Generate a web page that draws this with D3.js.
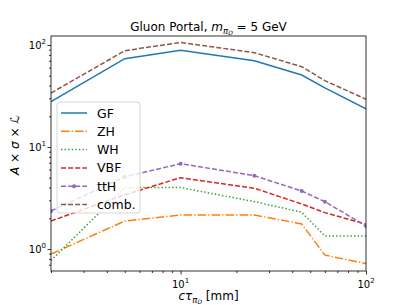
<!DOCTYPE html>
<html>
<head>
<meta charset="utf-8">
<script src="https://cdn.jsdelivr.net/npm/d3@7"></script>
<style>
  body { margin: 0; background: #fff; }
  svg { font-family: "DejaVu Sans", sans-serif; }
</style>
</head>
<body>
<svg id="chart" width="407" height="305"></svg>
<script>
// lifetimes (mm)
const ctau = [2, 5, 10, 25, 45, 60, 100];

// series values
const gf   = [27.8, 73.4, 88.7, 70.2, 50.8, 37.9, 23.7];
const zh   = [0.89, 1.88, 2.15, 2.15, 1.76, 0.87, 0.72];
const wh   = [0.77, 4.0, 4.0, 2.91, 2.29, 1.34, 1.34];
const vbf  = [1.88, 3.4, 5.0, 3.94, 2.76, 2.27, 1.75];
const tth  = [2.36, 5.1, 6.86, 5.23, 3.7, 2.91, 1.68];
const comb = [33.8, 87.9, 106, 84, 61.3, 44.7, 29.4];

const seriesNames = ["GF", "ZH", "WH", "VBF", "ttH", "comb."];
const seriesData = [gf, zh, wh, vbf, tth, comb];
const colors = ["#1f77b4", "#ff7f0e", "#2ca02c", "#d62728", "#9467bd", "#8c564b"];
const dashes = [null, "8.5,2.1,1.3,2.1", "1.4,2.2", "5,2.1", "5,2.1", "5,2.1"];

const xTicks = [10, 100];
const yTicks = [1, 10, 100];

const svg = d3.select("#chart");
const mLeft = 51, mRight = 366, mTop = 36, mBottom = 271;

const x = d3.scaleLog().domain([2, 100]).range([mLeft, mRight]);
const y = d3.scaleLog().domain([0.608, 122.5]).range([mBottom, mTop]);

svg.append("clipPath").attr("id", "clip")
  .append("rect").attr("x", mLeft).attr("y", mTop)
  .attr("width", mRight - mLeft).attr("height", mBottom - mTop);

const line = d3.line()
  .x((d, i) => x(ctau[i]))
  .y(d => y(d));

const plot = svg.append("g").attr("clip-path", "url(#clip)");

seriesData.forEach((vals, k) => {
  plot.append("path")
    .datum(vals)
    .attr("d", line)
    .attr("fill", "none")
    .attr("stroke", colors[k])
    .attr("stroke-width", 1.5)
    .attr("stroke-dasharray", dashes[k]);
});

// ttH markers
plot.selectAll("circle.tth")
  .data(tth)
  .enter()
  .append("circle")
  .attr("cx", (d, i) => x(ctau[i]))
  .attr("cy", d => y(d))
  .attr("r", 2)
  .attr("fill", colors[4]);

// minor tick values
const xMinor = [2, 3, 4, 5, 6, 7, 8, 9, 20, 30, 40, 50, 60, 70, 80, 90];
const yMinor = [0.7, 0.8, 0.9, 2, 3, 4, 5, 6, 7, 8, 9, 20, 30, 40, 50, 60, 70, 80, 90];

const sup = (g, base, exp) => {
  g.append("tspan").text(base);
  g.append("tspan").attr("dy", -5).attr("font-size", 7).text(exp);
};

// x axis
const xAxis = svg.append("g").attr("transform", `translate(0,${mBottom})`);
xAxis.call(d3.axisBottom(x).tickValues(xMinor).tickSize(2).tickFormat(""));
xAxis.append("g").call(d3.axisBottom(x).tickValues(xTicks).tickSize(3.5).tickFormat(""));
xAxis.selectAll(".domain").remove();
xAxis.selectAll("line").attr("stroke", "#000").attr("stroke-width", 0.8);
xTicks.forEach(v => {
  const t = svg.append("text").attr("x", x(v)).attr("y", 288)
    .attr("text-anchor", "middle").attr("font-size", 10);
  sup(t, "10", String(Math.round(Math.log10(v))));
});

// y axis
const yAxis = svg.append("g").attr("transform", `translate(${mLeft},0)`);
yAxis.call(d3.axisLeft(y).tickValues(yMinor).tickSize(2).tickFormat(""));
yAxis.append("g").call(d3.axisLeft(y).tickValues(yTicks).tickSize(3.5).tickFormat(""));
yAxis.selectAll(".domain").remove();
yAxis.selectAll("line").attr("stroke", "#000").attr("stroke-width", 0.8);
yTicks.forEach(v => {
  const t = svg.append("text").attr("x", 46).attr("y", y(v) + 4)
    .attr("text-anchor", "end").attr("font-size", 10);
  sup(t, "10", String(Math.round(Math.log10(v))));
});

// frame
svg.append("rect").attr("x", mLeft).attr("y", mTop)
  .attr("width", mRight - mLeft).attr("height", mBottom - mTop)
  .attr("fill", "none").attr("stroke", "#000").attr("stroke-width", 0.8);

// title
const title = svg.append("text").attr("x", (mLeft + mRight) / 2).attr("y", 31)
  .attr("text-anchor", "middle").attr("font-size", 12);
title.append("tspan").text("Gluon Portal, ");
title.append("tspan").attr("font-style", "italic").text("m");
title.append("tspan").attr("font-style", "italic").attr("font-size", 8.5).attr("dy", 2.5).text("π");
title.append("tspan").attr("font-style", "italic").attr("font-size", 6).attr("dy", 1.5).text("D");
title.append("tspan").attr("dy", -4).text(" = 5 GeV");

// x label
const xl = svg.append("text").attr("x", (mLeft + mRight) / 2).attr("y", 300)
  .attr("text-anchor", "middle").attr("font-size", 12);
xl.append("tspan").attr("font-style", "italic").text("cτ");
xl.append("tspan").attr("font-style", "italic").attr("font-size", 8.5).attr("dy", 2.5).text("π");
xl.append("tspan").attr("font-style", "italic").attr("font-size", 6).attr("dy", 1.5).text("D");
xl.append("tspan").attr("dy", -4).text(" [mm]");

// y label
svg.append("text")
  .attr("transform", "translate(19,145) rotate(-90)")
  .attr("text-anchor", "middle").attr("font-size", 12)
  .html('<tspan font-style="italic">A</tspan> × <tspan font-style="italic">σ</tspan> × <tspan font-style="italic">ℒ</tspan>');

// legend
const lg = svg.append("g").attr("transform", "translate(57,102)");
lg.append("rect").attr("width", 83).attr("height", 111).attr("rx", 3)
  .attr("fill", "#fff").attr("fill-opacity", 0.8)
  .attr("stroke", "#ccc").attr("stroke-width", 0.8);
seriesNames.forEach((name, k) => {
  const yy = 11 + k * 18.3;
  lg.append("line").attr("x1", 4).attr("x2", 30).attr("y1", yy).attr("y2", yy)
    .attr("stroke", colors[k]).attr("stroke-width", 1.5)
    .attr("stroke-dasharray", dashes[k]);
  if (k === 4) {
    lg.append("circle").attr("cx", 17).attr("cy", yy).attr("r", 2).attr("fill", colors[k]);
  }
  lg.append("text").attr("x", 40).attr("y", yy + 4.5)
    .attr("font-size", 12.5).text(name);
});
</script>
</body>
</html>
